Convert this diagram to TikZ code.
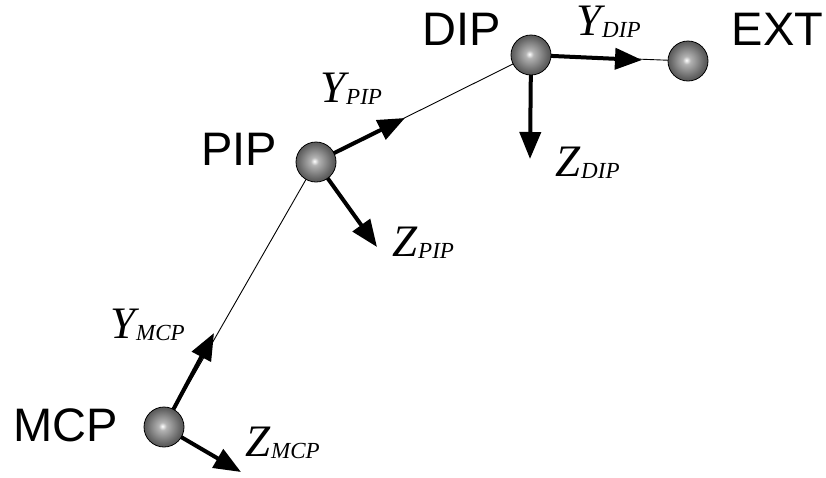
\documentclass[tikz,border=0pt]{standalone}
\usepackage{fontspec}
\setmainfont{Liberation Serif}
\setsansfont{Liberation Sans}
\usetikzlibrary{arrows.meta}
\pgfdeclarelayer{bg}
\pgfsetlayers{bg,main}
\pgfdeclareradialshading{sphere}{\pgfpoint{-2bp}{1bp}}{color(0bp)=(white); color(5bp)=(black!30); color(22bp)=(black!62); color(38bp)=(black!82); color(46bp)=(black!92); color(50bp)=(black)}
\newcommand\axlbl[2]{#1\kern1pt\raisebox{-2pt}{\fontsize{23}{25}\selectfont #2}}
\begin{document}
\begin{tikzpicture}[x=1pt,y=-1pt,
  joint/.style={circle, minimum size=40pt, inner sep=0pt, shading=sphere, draw=black, line width=0.8pt},
  jlabel/.style={font=\sffamily\fontsize{47}{50}\selectfont, inner sep=0pt, anchor=base},
  axis/.style={line width=4pt, -{Triangle[length=27pt,width=21pt]}},
  link/.style={line width=0.9pt},
  alabel/.style={inner sep=0pt, anchor=base west, font=\fontsize{45}{47}\selectfont\itshape}]
\useasboundingbox (0,0) rectangle (826,477);
% joints
\node[joint] (mcp) at (164,427) {};
\node[joint] (pip) at (316,162) {};
\node[joint] (dip) at (531,55) {};
\node[joint] (ext) at (688,61) {};
% axis tips
\coordinate (ymcp) at (214,333);
\coordinate (zmcp) at (241,472);
\coordinate (ypip) at (405,118);
\coordinate (zpip) at (377,247);
\coordinate (ydip) at (642,60);
\coordinate (zdip) at (530,159);
\begin{pgfonlayer}{bg}
\draw[link] (mcp.center) -- (pip.center);
\draw[link] (pip.center) -- (dip.center);
\draw[link] (dip.center) -- (ext.center);
\draw[axis] (mcp.center) -- (ymcp);
\draw[axis] (mcp.center) -- (zmcp);
\draw[axis] (pip.center) -- (ypip);
\draw[axis] (pip.center) -- (zpip);
\draw[axis] (dip.center) -- (ydip);
\draw[axis] (dip.center) -- (zdip);
\end{pgfonlayer}
% joint labels
\node[jlabel] (tmcp) at (65.5,441) {MCP};
\node[jlabel] (tpip) at (239,165) {PIP};
\node[jlabel] (tdip) at (461.5,45) {DIP};
\node[jlabel] (text) at (777.5,45) {EXT};
% axis labels
\node[alabel] (lymcp) at (110,338) {\axlbl{Y}{MCP}};
\node[alabel] (lzmcp) at (245,456) {\axlbl{Z}{MCP}};
\node[alabel] (lypip) at (320,102) {\axlbl{Y}{PIP}};
\node[alabel] (lzpip) at (392,256) {\axlbl{Z}{PIP}};
\node[alabel] (lydip) at (576,35) {\axlbl{Y}{DIP}};
\node[alabel] (lzdip) at (555,176) {\axlbl{Z}{DIP}};
\end{tikzpicture}
\end{document}
